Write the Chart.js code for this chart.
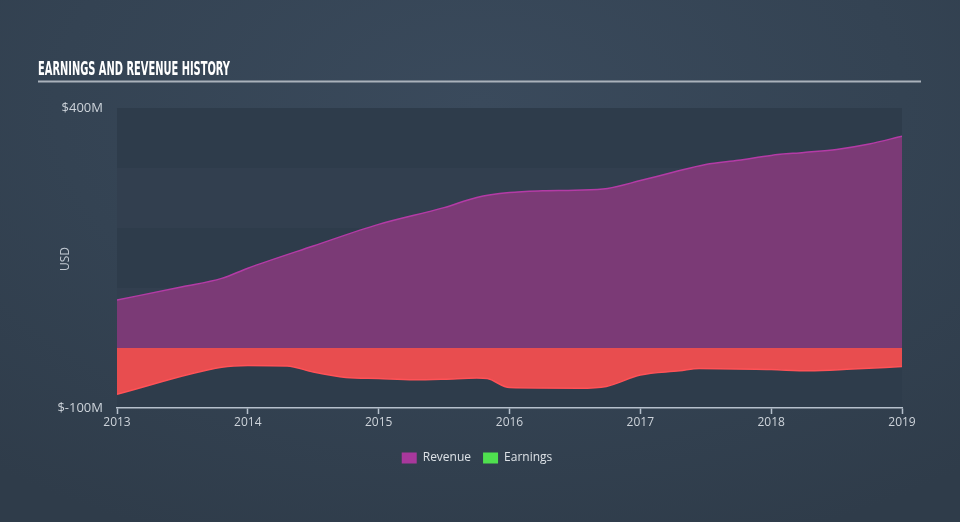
<!DOCTYPE html>
<html>
<head>
<meta charset="utf-8">
<script src="https://cdn.jsdelivr.net/npm/chart.js@4.4.1/dist/chart.umd.min.js"></script>
<style>
  html, body { margin: 0; padding: 0; }
  body {
    width: 960px; height: 522px; overflow: hidden;
    background: radial-gradient(ellipse 80% 90% at 50% 20%, #3a4a5c 0%, #344353 55%, #2f3c4a 100%);
  }
  #wrap { position: absolute; left: 0; top: 0; width: 960px; height: 522px; }
</style>
</head>
<body>
<div id="wrap"><canvas id="c" width="960" height="522"></canvas></div>
<script>
// ---- data (values in $M, x in fractional years) ----
const revenueYears = [2013.0, 2013.5, 2013.8, 2014.0, 2014.5, 2015.0, 2015.5, 2015.75, 2016.0, 2016.25, 2016.5, 2016.75, 2017.0, 2017.25, 2017.5, 2017.75, 2018.0, 2018.25, 2018.5, 2018.75, 2019.0];
const revenueValues = [80, 102, 116, 133, 170, 206, 234, 251, 259, 262, 263, 266, 279, 293, 306, 313, 321, 326, 331, 340, 353];
const earningsYears = [2013.0, 2013.8, 2014.0, 2014.3, 2014.5, 2014.75, 2015.0, 2015.27, 2015.5, 2015.75, 2015.83, 2016.0, 2016.53, 2016.74, 2017.0, 2017.3, 2017.45, 2018.0, 2018.29, 2018.62, 2019.0];
const earningsValues = [-77, -32, -29, -30, -40, -49, -51, -53, -52, -50, -51, -66, -67, -64, -45, -38, -34, -36, -38, -35, -31];
const yearTicks = [2013, 2014, 2015, 2016, 2017, 2018, 2019];
const yLabelValues = [400, -100];
const seriesNames = ['Revenue', 'Earnings'];
const legendColors = ['#a8389c', '#4fe04f'];

const toPoints = (xs, ys) => xs.map((x, i) => ({ x: x, y: ys[i] }));

const decor = {
  id: 'decor',
  beforeDraw(chart) {
    const ctx = chart.ctx;
    const a = chart.chartArea;
    const y = chart.scales.y;
    ctx.save();
    // bands
    for (let v = 400; v > -100; v -= 100) {
      const top = y.getPixelForValue(v);
      const bot = y.getPixelForValue(v - 100);
      const dark = (v === 400 || v === 200 || v === 0);
      ctx.fillStyle = dark ? '#2e3c4b' : '#323f4f';
      ctx.fillRect(a.left, top, a.right - a.left, bot - top);
    }
    // title
    ctx.fillStyle = '#ffffff';
    ctx.font = 'bold 19px "Liberation Sans Narrow", "DejaVu Sans Condensed", sans-serif';
    ctx.textBaseline = 'alphabetic';
    ctx.textAlign = 'left';
    const t = 'EARNINGS AND REVENUE HISTORY';
    const w = ctx.measureText(t).width;
    ctx.save();
    ctx.translate(38, 75);
    ctx.scale(192 / w, 1);
    ctx.fillText(t, 0, 0);
    ctx.restore();
    // underline
    ctx.fillStyle = '#aab2bb';
    ctx.fillRect(38, 80.5, 883, 2);
    // USD
    ctx.save();
    ctx.translate(66, 259);
    ctx.rotate(-Math.PI / 2);
    ctx.fillStyle = '#c3cad2';
    ctx.font = '12px "Open Sans", sans-serif';
    ctx.textAlign = 'center';
    ctx.textBaseline = 'middle';
    ctx.fillText('USD', 0, 0);
    ctx.restore();
    ctx.restore();
  }
};

new Chart(document.getElementById('c'), {
  type: 'line',
  data: {
    datasets: [
      {
        label: seriesNames[0],
        data: toPoints(revenueYears, revenueValues),
        borderColor: '#b43ba6',
        backgroundColor: '#7b3a76',
        borderWidth: 1.5,
        fill: 'origin',
        pointRadius: 0,
        cubicInterpolationMode: 'monotone'
      },
      {
        label: seriesNames[1],
        data: toPoints(earningsYears, earningsValues),
        borderColor: '#ff5257',
        backgroundColor: '#e84d4f',
        borderWidth: 1.5,
        fill: 'origin',
        pointRadius: 0,
        cubicInterpolationMode: 'monotone'
      }
    ]
  },
  options: {
    responsive: false,
    animation: false,
    events: [],
    layout: { padding: { top: 108, right: 58, bottom: 48, left: 52 } },
    scales: {
      x: {
        type: 'linear',
        min: 2013,
        max: 2019,
        afterBuildTicks(scale) { scale.ticks = yearTicks.map(v => ({ value: v })); },
        afterFit(scale) { scale.height = 32; },
        border: { display: true, color: '#b6c0cc', width: 1.5 },
        grid: { display: true, drawOnChartArea: false, drawTicks: true, tickLength: 6, tickColor: '#b6c0cc', tickWidth: 1.5 },
        ticks: {
          color: '#cdd3da',
          font: { family: '"Open Sans", sans-serif', size: 12 },
          padding: 1,
          maxRotation: 0,
          callback: v => String(v)
        }
      },
      y: {
        min: -100,
        max: 400,
        afterBuildTicks(scale) { scale.ticks = yLabelValues.map(v => ({ value: v })); },
        afterFit(scale) { scale.width = 65; },
        border: { display: false },
        grid: { display: false, drawTicks: false },
        ticks: {
          color: '#cdd3da',
          font: { family: '"Open Sans", sans-serif', size: 13 },
          padding: 14,
          crossAlign: 'near',
          callback: v => '$' + v + 'M'
        }
      }
    },
    plugins: {
      title: { display: false },
      tooltip: { enabled: false },
      legend: {
        display: true,
        position: 'bottom',
        labels: {
          color: '#dde2e7',
          font: { family: '"Open Sans", sans-serif', size: 12 },
          boxWidth: 15,
          boxHeight: 11,
          padding: 12,
          generateLabels: () => seriesNames.map((n, i) => ({
            text: n,
            fillStyle: legendColors[i],
            strokeStyle: legendColors[i],
            lineWidth: 0,
            fontColor: '#dde2e7',
            datasetIndex: i,
            hidden: false
          }))
        }
      }
    }
  },
  plugins: [decor]
});
</script>
</body>
</html>
